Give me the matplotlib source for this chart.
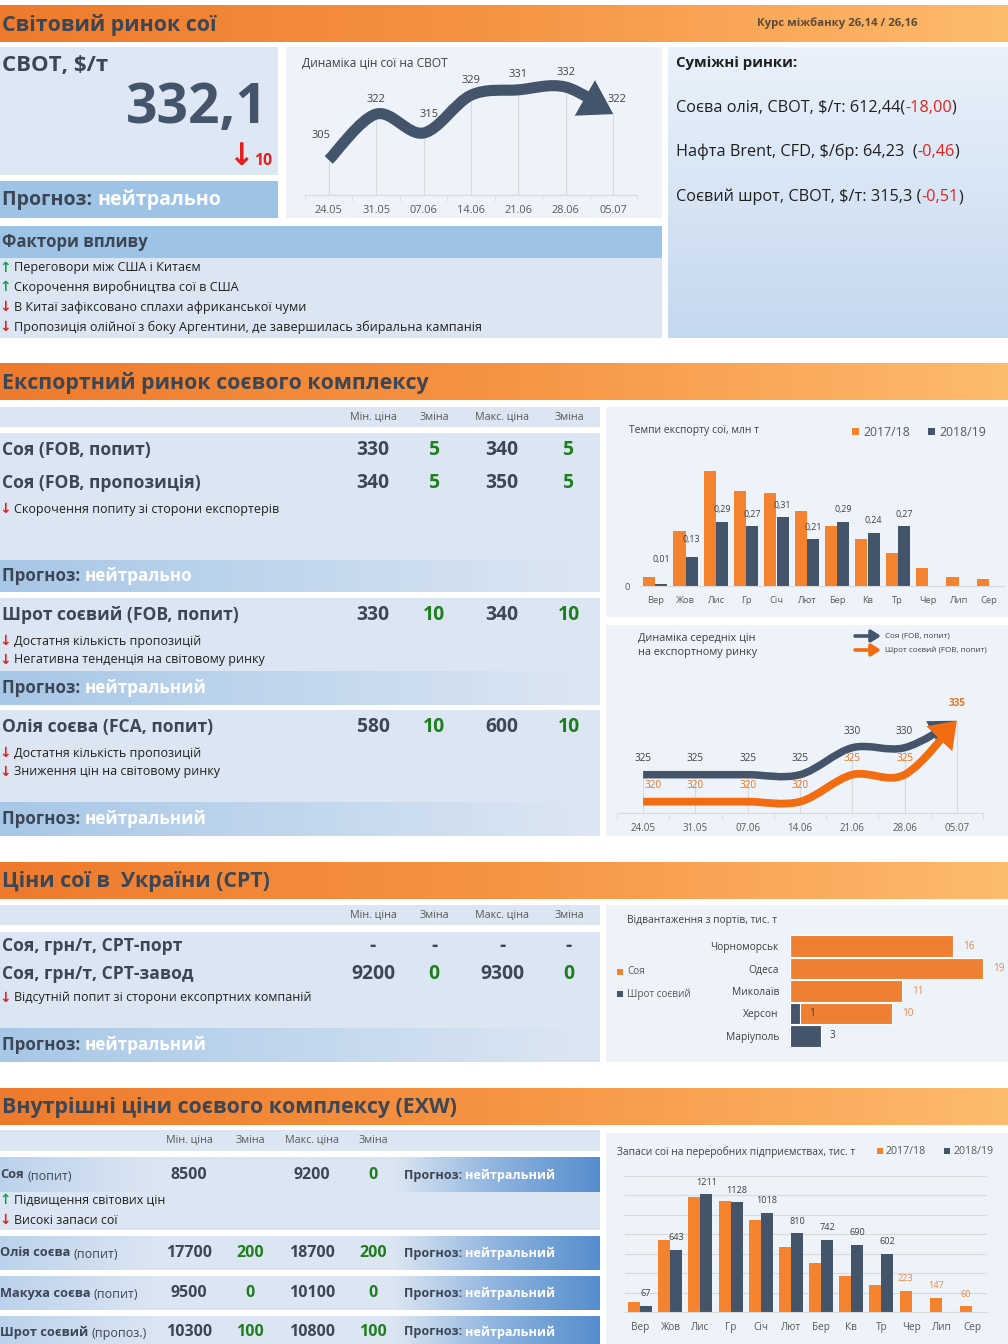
import numpy as np
import matplotlib
matplotlib.use('Agg')
import matplotlib.pyplot as plt
from matplotlib.colors import LinearSegmentedColormap
from matplotlib.patches import Rectangle, FancyArrowPatch
from matplotlib.path import Path
import warnings
warnings.filterwarnings('ignore')

plt.rcParams['font.family'] = ['Open Sans', 'DejaVu Sans']

# ================= DATA =================
section_titles = ['Світовий ринок сої', 'Експортний ринок соєвого комплексу',
                  'Ціни сої в  України (СРТ)', 'Внутрішні ціни соєвого комплексу (EXW)']
rate_text = 'Курс міжбанку 26,14 / 26,16'
forecast_word = 'Прогноз: '

cbot_label = 'СВОТ, $/т'
cbot_value = '332,1'
cbot_change = '10'
cbot_forecast = 'нейтрально'
cbot_chart_title = 'Динаміка цін сої на СВОТ'
cbot_dates = ['24.05', '31.05', '07.06', '14.06', '21.06', '28.06', '05.07']
cbot_prices = [305, 322, 315, 329, 331, 332, 322]

related_title = 'Суміжні ринки:'
related_names = ['Соєва олія, СВОТ, $/т: 612,44(', 'Нафта Brent, CFD, $/бр: 64,23  (',
                 'Соєвий шрот, СВОТ, $/т: 315,3 (']
related_changes = ['-18,00', '-0,46', '-0,51']

factors_title = 'Фактори впливу'
world_factor_dirs = ['up', 'up', 'down', 'down']
world_factors = ['Переговори між США і Китаєм', 'Скорочення виробництва сої в США',
                 'В Китаї зафіксовано сплахи африканської чуми',
                 'Пропозиція олійної з боку Аргентини, де завершилась збиральна кампанія']

price_cols = ['Мін. ціна', 'Зміна', 'Макс. ціна', 'Зміна']
export_names = ['Соя (FOB, попит)', 'Соя (FOB, пропозиція)', 'Шрот соєвий (FOB, попит)',
                'Олія соєва (FCA, попит)']
export_min = ['330', '340', '330', '580']
export_min_chg = ['5', '5', '10', '10']
export_max = ['340', '350', '340', '600']
export_max_chg = ['5', '5', '10', '10']
export_soy_factors = ['Скорочення попиту зі сторони експортерів']
export_meal_factors = ['Достатня кількість пропозицій', 'Негативна тенденція на світовому ринку']
export_oil_factors = ['Достатня кількість пропозицій', 'Зниження цін на світовому ринку']
export_forecasts = ['нейтрально', 'нейтральний', 'нейтральний']

months = ['Вер', 'Жов', 'Лис', 'Гр', 'Січ', 'Лют', 'Бер', 'Кв', 'Тр', 'Чер', 'Лип', 'Сер']
season_labels = ['2017/18', '2018/19']
export_title = 'Темпи експорту сої, млн т'
export_1718 = [0.04, 0.25, 0.52, 0.43, 0.42, 0.34, 0.27, 0.21, 0.15, 0.08, 0.04, 0.03]
export_1819 = [0.01, 0.13, 0.29, 0.27, 0.31, 0.21, 0.29, 0.24, 0.27, np.nan, np.nan, np.nan]

fob_title = ['Динаміка середніх цін', 'на експортному ринку']
fob_series = ['Соя (FOB, попит)', 'Шрот соєвий (FOB, попит)']
fob_dates = ['24.05', '31.05', '07.06', '14.06', '21.06', '28.06', '05.07']
fob_soy = [325, 325, 325, 325, 330, 330, 335]
fob_meal = [320, 320, 320, 320, 325, 325, 335]

cpt_names = ['Соя, грн/т, СРТ-порт', 'Соя, грн/т, СРТ-завод']
cpt_min = ['-', '9200']
cpt_min_chg = ['-', '0']
cpt_max = ['-', '9300']
cpt_max_chg = ['-', '0']
cpt_factors = ['Відсутній попит зі сторони ексопртних компаній']
cpt_forecast = 'нейтральний'

ports_title = 'Відвантаження з портів, тис. т'
ports_series = ['Соя', 'Шрот соєвий']
ports = ['Чорноморськ', 'Одеса', 'Миколаїв', 'Херсон', 'Маріуполь']
ports_soy = [16, 19, 11, 10, 0]
ports_meal = [0, 0, 0, 1, 3]

exw_names = ['Соя', 'Олія соєва', 'Макуха соєва', 'Шрот соєвий']
exw_notes = ['(попит)', '(попит)', '(попит)', '(пропоз.)']
exw_min = ['8500', '17700', '9500', '10300']
exw_min_chg = ['', '200', '0', '100']
exw_max = ['9200', '18700', '10100', '10800']
exw_max_chg = ['0', '200', '0', '100']
exw_forecast = 'нейтральний'
exw_factor_dirs = ['up', 'down']
exw_factors = ['Підвищення світових цін', 'Високі запаси сої']

stocks_title = 'Запаси сої на переробних підприємствах, тис. т'
stocks_1718 = [105, 740, 1184, 1140, 942, 672, 505, 375, 276, 223, 147, 60]
stocks_1819 = [67, 643, 1211, 1128, 1018, 810, 742, 690, 602, np.nan, np.nan, np.nan]

# ================= STYLE =================
W, H = 1008, 1344
DARK = '#3D4654'; SLATE = '#44546A'; ORANGE = '#F4822F'; GREEN = '#1E7E1E'
RED = '#E3211C'; UPG = '#11A04F'; LIGHT = '#DCE6F2'; MIDB = '#9DC3E6'
CHBG = '#EEF3F9'; GRID = '#D9D9D9'; TICK = '#595959'; LBL = '#404040'
ORLBL = '#E8894A'

fig = plt.figure(figsize=(W / 100, H / 100), dpi=100)
fig.patch.set_facecolor('white')
bg = fig.add_axes([0, 0, 1, 1], zorder=0)
bg.set_xlim(0, W); bg.set_ylim(H, 0); bg.axis('off')
R = fig.canvas.get_renderer()


def px_axes(x0, y0, x1, y1):
    ax = fig.add_axes([x0 / W, 1 - y1 / H, (x1 - x0) / W, (y1 - y0) / H], zorder=2)
    ax.set_facecolor('none')
    return ax


def rect(x0, y0, x1, y1, c, z=0.5):
    bg.add_patch(Rectangle((x0, y0), x1 - x0, y1 - y0, fc=c, ec='none', zorder=z))


def grad(x0, y0, x1, y1, colors, vertical=False, z=0.6):
    cmap = LinearSegmentedColormap.from_list('g', colors)
    a = np.linspace(0, 1, 256)
    a = a.reshape(-1, 1) if vertical else a.reshape(1, -1)
    bg.imshow(a, cmap=cmap, extent=(x0, x1, y1, y0), aspect='auto', zorder=z,
              interpolation='bilinear')


def txt(x, y, s, fs, c=DARK, w='normal', ha='left', va='center', z=5, **kw):
    return bg.text(x, y, s, fontsize=fs, color=c, fontweight=w, ha=ha, va=va, zorder=z, **kw)


def tw(s, fs, w='normal'):
    t = bg.text(0, 0, s, fontsize=fs, fontweight=w)
    b = t.get_window_extent(R).width
    t.remove()
    return b


def adv(s, fs, w='normal'):
    return tw(s + '|', fs, w) - tw('|', fs, w)


def fit(s, width, w='normal'):
    return 10 * width / tw(s, 10, w)


def rich(x, y, parts, fs, w='normal'):
    for s, c in parts:
        txt(x, y, s, fs, c, w)
        x += adv(s, fs, w)


def factor(y, d, s, fs, x=0):
    txt(x + 5, y, '↑' if d == 'up' else '↓', fs * 1.1, UPG if d == 'up' else RED, 'bold', ha='center')
    txt(x + 14, y, s, fs, '#1F1F1F')


def smooth_path(xs, ys, k=1 / 6):
    P = np.column_stack([xs, ys]).astype(float)
    n = len(P)
    verts = [P[0]]; codes = [Path.MOVETO]
    for i in range(n - 1):
        p0 = P[i - 1] if i > 0 else P[i]
        p1 = P[i]; p2 = P[i + 1]
        p3 = P[i + 2] if i + 2 < n else P[i + 1]
        verts += [p1 + (p2 - p0) * k, p2 - (p3 - p1) * k, p2]
        codes += [Path.CURVE4] * 3
    return Path(np.array(verts), codes)


def smooth_arrow(ax, xs, ys, color, lw, hl, hw, z=3):
    a = FancyArrowPatch(path=smooth_path(xs, ys),
                        arrowstyle=f'-|>,head_length={hl},head_width={hw}',
                        mutation_scale=10, lw=lw, color=color, transform=ax.transData,
                        zorder=z, joinstyle='miter', capstyle='butt')
    ax.add_patch(a)


def clean(ax, keep=('bottom',)):
    for s in ['left', 'right', 'top', 'bottom']:
        ax.spines[s].set_visible(s in keep)
        ax.spines[s].set_color(GRID)


# ================= SECTION HEADERS =================
head_fs = fit(section_titles[1], 429, 'bold')
for title, (y0, y1) in zip(section_titles, [(5, 42), (363, 400), (862, 899), (1088, 1125)]):
    grad(0, y0, W, y1, ['#EE7B2D', '#F69443', '#FDBB6D'])
    txt(2, (y0 + y1) / 2 + 1, title, head_fs, DARK, 'bold')
txt(837, 23, rate_text, fit(rate_text, 160, 'bold'), '#5A4B3B', 'bold', ha='center')

# ================= SECTION 1 =================
rect(0, 47, 278, 175, '#DDE8F4')
txt(2, 66, cbot_label, fit(cbot_label, 106, 'bold'), DARK, 'bold')
txt(268, 109, cbot_value, fit(cbot_value, 141, 'bold'), SLATE, 'bold', ha='right')
txt(241, 157, '↓', 22, RED, 'bold', ha='center')
txt(254, 161, cbot_change, fit(cbot_change, 18, 'bold'), RED, 'bold')
rect(0, 181, 278, 218, MIDB)
rich(2, 200, [(forecast_word, DARK), (cbot_forecast, 'white')],
     fit(forecast_word + cbot_forecast, 220, 'bold'), 'bold')

rect(286, 47, 662, 218, CHBG)
txt(302, 63, cbot_chart_title, fit(cbot_chart_title, 147), LBL)

ax1 = px_axes(305, 58, 637, 195)
xc = np.arange(len(cbot_prices))
ax1.set_xlim(-0.5, 6.5); ax1.set_ylim(292, 342.8)
ax1.vlines(xc, 292, cbot_prices, color=GRID, lw=0.8, zorder=1)
smooth_arrow(ax1, xc, cbot_prices, SLATE, 8, 1.2, 0.75)
lab_off = {0: (-8, 24), 2: (5, 18), 6: (4, 15)}
cb_fs = fit('305', 19)
for i, v in enumerate(cbot_prices):
    dx, dy = lab_off.get(i, (0, 15))
    ax1.annotate(str(v), (i, v), xytext=(dx, dy), textcoords='offset pixels', ha='center',
                 va='center', fontsize=cb_fs, color=LBL, zorder=4)
clean(ax1)
ax1.set_yticks([])
ax1.set_xticks(xc, cbot_dates)
ax1.tick_params(axis='x', length=0, pad=7, labelsize=fit('24.05', 28), labelcolor=TICK)
ax1.set_xticks(np.arange(-0.5, 7, 1), minor=True)
ax1.tick_params(axis='x', which='minor', length=4, color=GRID)

# related markets
grad(668, 47, W, 338, ['#EAF2FB', '#C4D8EE'], vertical=True)
txt(676, 63, related_title, fit(related_title, 122, 'bold'), '#1F1F1F', 'bold')
rel_fs = fit(related_names[2] + related_changes[2] + ')', 286)
for y, nm, ch in zip([108, 152, 197], related_names, related_changes):
    rich(676, y, [(nm, '#1F1F1F'), (ch, RED), (')', '#1F1F1F')], rel_fs)

# factors
rect(0, 226, 662, 258, MIDB)
txt(2, 242, factors_title, fit(factors_title, 147, 'bold'), DARK, 'bold')
rect(0, 258, 662, 338, LIGHT)
wf_fs = fit(world_factors[3], 464)
for y, d, s in zip([268, 287, 307, 327], world_factor_dirs, world_factors):
    factor(y, d, s, wf_fs)

# ================= SECTION 2 =================
cols = [373, 434, 502, 569]
colh_fs = fit('Макс. ціна', 54)
name_fs = fit(export_names[1], 199, 'bold')
val_fs = fit('330', 33, 'bold')
fc_fs = fit(forecast_word + 'нейтральний', 205, 'bold')
fac_fs = fit(export_soy_factors[0], 263)


def col_header(y0, y1, xs):
    rect(0, y0, 600, y1, LIGHT)
    for cx, c in zip(xs, price_cols):
        txt(cx, (y0 + y1) / 2, c, colh_fs, TICK, ha='center')


def price_row(y, name, vals):
    txt(2, y, name, name_fs, DARK, 'bold')
    for cx, v, chg in zip(cols, vals, [False, True, False, True]):
        c = GREEN if (chg and v != '-') else DARK
        txt(cx, y, v, val_fs, c, 'bold', ha='center')


def fc_bar(y0, y1, word):
    grad(0, y0, 600, y1, ['#A7C7E7', '#DDE7F3'])
    rich(2, (y0 + y1) / 2, [(forecast_word, DARK), (word, 'white')], fc_fs, 'bold')


col_header(407, 427, cols)
rect(0, 433, 600, 560, LIGHT)
for y, i in zip([450, 483], [0, 1]):
    price_row(y, export_names[i], [export_min[i], export_min_chg[i], export_max[i], export_max_chg[i]])
for y, s in zip([509], export_soy_factors):
    factor(y, 'down', s, fac_fs)
fc_bar(560, 592, export_forecasts[0])

rect(0, 598, 600, 671, LIGHT)
price_row(615, export_names[2], [export_min[2], export_min_chg[2], export_max[2], export_max_chg[2]])
for y, s in zip([641, 660], export_meal_factors):
    factor(y, 'down', s, fac_fs)
fc_bar(671, 705, export_forecasts[1])

rect(0, 710, 600, 802, LIGHT)
price_row(727, export_names[3], [export_min[3], export_min_chg[3], export_max[3], export_max_chg[3]])
for y, s in zip([753, 772], export_oil_factors):
    factor(y, 'down', s, fac_fs)
fc_bar(802, 836, export_forecasts[2])

# ---- export pace chart ----
rect(606, 407, W, 617, CHBG)
txt(629, 430, export_title, fit(export_title, 130), LBL)
leg_fs = fit('2017/18', 47)
for x0, lab, c in zip([852, 928], season_labels, [ORANGE, SLATE]):
    rect(x0, 428, x0 + 7, 435, c, z=4)
    txt(x0 + 11, 432, lab, leg_fs, TICK)

ax2 = px_axes(640, 440, 1004, 586)
xm = np.arange(len(months))
ax2.bar(xm - 0.2, export_1718, 0.4, color=ORANGE, zorder=2)
ax2.bar(xm + 0.2, export_1819, 0.4, color=SLATE, zorder=2)
ax2.set_xlim(-0.5, 11.5); ax2.set_ylim(0, 0.658)
mon_fs = fit('Вер', 17)
blab_fs = mon_fs * 0.95
ex_off = {0: 24, 1: 18}
for i, v in enumerate(export_1819):
    if not np.isnan(v):
        ax2.annotate(f'{v:.2f}'.replace('.', ','), (i + 0.2, v), xytext=(0, ex_off.get(i, 12)),
                     textcoords='offset pixels', ha='center', va='center', fontsize=blab_fs,
                     color=LBL)
clean(ax2)
ax2.set_yticks([0], ['0'])
ax2.tick_params(axis='y', length=0, pad=7, labelsize=mon_fs, labelcolor=TICK)
ax2.set_xticks(xm, months)
ax2.tick_params(axis='x', length=0, pad=7, labelsize=mon_fs, labelcolor=TICK)

# ---- FOB price chart ----
rect(606, 625, W, 836, CHBG)
ft_fs = fit(fob_title[0], 118)
txt(638, 638, fob_title[0], ft_fs, LBL)
txt(638, 653, fob_title[1], ft_fs, LBL)
fl_fs = fit(fob_series[1], 101)
for y, lab, c in zip([636, 650], fob_series, [SLATE, '#F26C12']):
    bg.add_patch(FancyArrowPatch((855, y), (881, y), arrowstyle='-|>,head_length=0.55,head_width=0.35',
                                 mutation_scale=10, lw=2.6, color=c, shrinkA=0, shrinkB=0, zorder=5))
    txt(885, y, lab, fl_fs, LBL)

ax3 = px_axes(617, 690, 983, 813)
xf = np.arange(len(fob_soy))
ax3.set_xlim(-0.5, 6.5); ax3.set_ylim(317.9, 340.7)
ax3.vlines(xf, 317.9, fob_soy, color=GRID, lw=0.8, zorder=1)
smooth_arrow(ax3, xf, fob_soy, SLATE, 5.4, 1.1, 0.55)
smooth_arrow(ax3, xf, fob_meal, '#F26C12', 5.6, 1.05, 0.75, z=3.5)
fv_fs = fit('325', 17)
for i, (v, m) in enumerate(zip(fob_soy, fob_meal)):
    if v != m:
        ax3.annotate(str(v), (i, v), xytext=(0, 16), textcoords='offset pixels', ha='center',
                     va='center', fontsize=fv_fs, color=LBL, zorder=4)
for i, v in enumerate(fob_meal):
    ax3.annotate(str(v), (i, v), xytext=(10 if i == 0 else 0, 17 if i == 6 else 16),
                 textcoords='offset pixels', ha='center', va='center', fontsize=fv_fs,
                 color='#E3741F', zorder=4, fontweight='bold' if i == 6 else 'normal')
clean(ax3)
ax3.set_yticks([])
ax3.set_xticks(xf, fob_dates)
ax3.tick_params(axis='x', length=0, pad=7, labelsize=fit('24.05', 25), labelcolor=TICK)
ax3.set_xticks(np.arange(-0.5, 7, 1), minor=True)
ax3.tick_params(axis='x', which='minor', length=4, color=GRID)

# ================= SECTION 3 =================
col_header(905, 925, cols)
rect(0, 932, 600, 1028, LIGHT)
for y, i in zip([946, 974], [0, 1]):
    price_row(y, cpt_names[i], [cpt_min[i], cpt_min_chg[i], cpt_max[i], cpt_max_chg[i]])
for y, s in zip([998], cpt_factors):
    factor(y, 'down', s, fac_fs)
fc_bar(1028, 1062, cpt_forecast)

# ---- ports chart ----
rect(606, 905, W, 1062, CHBG)
txt(627, 921, ports_title, fit(ports_title, 149), LBL)
pl_fs = fit(ports_series[1], 64)
for y, lab, c in zip([972, 994], ports_series, [ORANGE, SLATE]):
    rect(617, y - 3, 623, y + 3, c, z=4)
    txt(627, y, lab, pl_fs, TICK)

ax4 = px_axes(790, 935, 995, 1047)
yp = np.arange(len(ports))
ax4.barh(yp, ports_soy, 0.97, color='#EF7F33', edgecolor='white', lw=0.8, zorder=2)
ax4.barh(yp, ports_meal, 0.97, color=SLATE, edgecolor='white', lw=0.8, zorder=3)
ax4.set_ylim(4.5, -0.5); ax4.set_xlim(0, 20.16)
pv_fs = fit('16', 11.5)
for i, (s, m) in enumerate(zip(ports_soy, ports_meal)):
    if s > 0:
        ax4.annotate(str(s), (s, i), xytext=(10, 0), textcoords='offset pixels', ha='left',
                     va='center', fontsize=pv_fs, color=ORLBL, zorder=4)
    if m > 0:
        ax4.annotate(str(m), (m, i), xytext=(9, 0), textcoords='offset pixels', ha='left',
                     va='center', fontsize=pv_fs, color=LBL, zorder=4)
clean(ax4, keep=('left',))
ax4.spines['left'].set_color('#BFBFBF')
ax4.set_xticks([])
ax4.set_yticks(yp, ports)
ax4.tick_params(axis='y', length=0, pad=8, labelsize=fit('Чорноморськ', 68), labelcolor=LBL)

# ================= SECTION 4 =================
cols4 = [189, 250, 312, 373]
col_header(1130, 1151, cols4)
s4_name_fs = fit(exw_names[1], 70, 'bold')
s4_note_fs = fit(exw_notes[0], 44)
s4_val_fs = fit('17700', 46, 'bold')
s4_fc_fs = fit(forecast_word + exw_forecast, 153, 'bold')
s4_fac_fs = fit(exw_factors[0], 150)
bands = [(1157, 1192), (1236, 1270), (1276, 1310), (1316, 1344)]
ycs = [1175, 1253, 1293, 1332]
rect(0, 1192, 600, 1230, LIGHT)
for i, ((y0, y1), yc) in enumerate(zip(bands, ycs)):
    rect(0, y0, 600, y1, LIGHT)
    grad(0, y0, 158, y1, ['#BCD2EC', LIGHT])
    grad(395, y0, 600, y1, [LIGHT, '#8DB3DF', '#568DCE'])
    txt(0, yc, exw_names[i], s4_name_fs, DARK, 'bold')
    txt(adv(exw_names[i] + ' ', s4_name_fs, 'bold'), yc + 1, exw_notes[i], s4_note_fs, DARK)
    for cx, v, chg in zip(cols4, [exw_min[i], exw_min_chg[i], exw_max[i], exw_max_chg[i]],
                          [False, True, False, True]):
        txt(cx, yc, v, s4_val_fs, GREEN if chg else DARK, 'bold', ha='center')
    rich(404, yc, [(forecast_word, DARK), (exw_forecast, 'white')], s4_fc_fs, 'bold')
for y, d, s in zip([1200, 1220], exw_factor_dirs, exw_factors):
    factor(y, d, s, s4_fac_fs, x=0)

# ---- stocks chart ----
rect(606, 1133, W, H, CHBG)
txt(617, 1152, stocks_title, fit(stocks_title, 238), LBL)
sl_fs = fit('2017/18', 40)
for x0, lab, c in zip([877, 944], season_labels, [ORANGE, SLATE]):
    rect(x0, 1148, x0 + 6, 1154, c, z=4)
    txt(x0 + 9, 1151, lab, sl_fs, TICK)

ax5 = px_axes(625, 1175.7, 987, 1312.3)
ax5.bar(xm - 0.2, stocks_1718, 0.4, color=ORANGE, zorder=2)
ax5.bar(xm + 0.2, stocks_1819, 0.4, color=SLATE, zorder=2)
ax5.set_xlim(-0.5, 11.5); ax5.set_ylim(0, 1400)
ax5.set_yticks(np.arange(0, 1401, 200))
ax5.yaxis.grid(True, color=GRID, lw=0.8)
ax5.set_axisbelow(True)
sv_fs = fit('1211', 21)
for i, (a, b) in enumerate(zip(stocks_1718, stocks_1819)):
    if not np.isnan(b):
        ax5.annotate(str(int(b)), (i + 0.2, b), xytext=(0, 12), textcoords='offset pixels',
                     ha='center', va='center', fontsize=sv_fs, color=LBL)
    else:
        ax5.annotate(str(int(a)), (i - 0.2, a), xytext=(0, 12), textcoords='offset pixels',
                     ha='center', va='center', fontsize=sv_fs, color=ORLBL)
clean(ax5)
ax5.tick_params(axis='y', length=0, labelleft=False)
ax5.set_xticks(xm, months)
ax5.tick_params(axis='x', length=0, pad=7, labelsize=fit('Вер', 18), labelcolor=TICK)

bg.set_xlim(0, W); bg.set_ylim(H, 0)
fig.savefig('out.png', dpi=100, facecolor='white')
